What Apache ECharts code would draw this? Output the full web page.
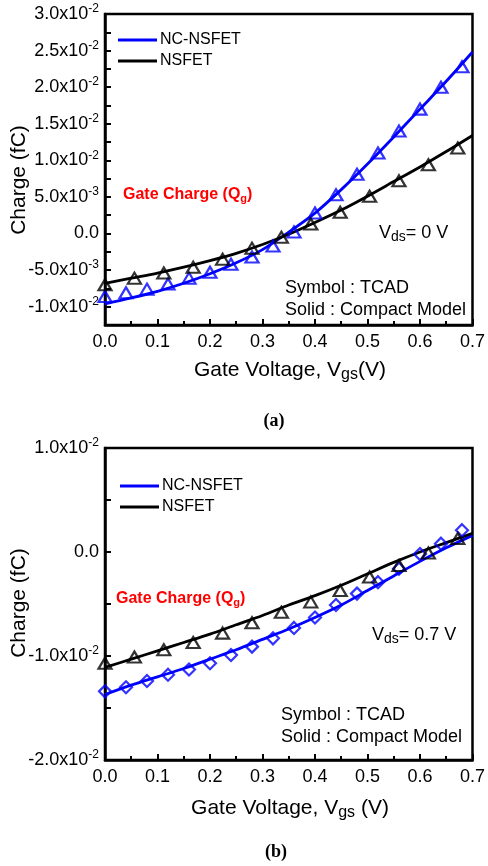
<!DOCTYPE html>
<html><head><meta charset="utf-8">
<script src="https://cdn.jsdelivr.net/npm/echarts@6/dist/echarts.min.js"></script>
<style>html,body{margin:0;padding:0;background:#fff}#c{width:488px;height:866px}</style>
</head><body><div id="c"></div>
<script>
const FONT = '"Liberation Sans", Arial, Helvetica, sans-serif';
const BLUE = '#0000ff';
const BLACK = '#000000';

// ---------- (a) Vds = 0 V ----------
const topVgsLine = [0, 0.05, 0.1, 0.15, 0.2, 0.25, 0.3, 0.35, 0.4, 0.45, 0.5, 0.55, 0.6, 0.65, 0.7];
const topNcLine = [-0.0096, -0.0088, -0.0079, -0.0068, -0.0055, -0.0040, -0.0022, 0.0002, 0.0028, 0.0060, 0.0095, 0.0132, 0.0170, 0.0208, 0.0248];
const topNsLine = [-0.0068, -0.0061, -0.0054, -0.0046, -0.0037, -0.0027, -0.0015, -0.0001, 0.0015, 0.0032, 0.0051, 0.0071, 0.0091, 0.0112, 0.0134];
const topNcTcadVgs = [0, 0.04, 0.08, 0.12, 0.16, 0.2, 0.24, 0.28, 0.32, 0.36, 0.4, 0.44, 0.48, 0.52, 0.56, 0.6, 0.64, 0.68];
const topNcTcad = [-0.0086, -0.0081, -0.0076, -0.0069, -0.0061, -0.0053, -0.0042, -0.0032, -0.0017, 0.0002, 0.0028, 0.0053, 0.0081, 0.0110, 0.0140, 0.0170, 0.0200, 0.0228];
const topNsTcadVgs = [0, 0.056, 0.112, 0.168, 0.224, 0.28, 0.336, 0.392, 0.448, 0.504, 0.56, 0.616, 0.672];
const topNsTcad = [-0.0070, -0.0061, -0.0054, -0.0046, -0.0035, -0.0020, -0.0005, 0.0013, 0.0029, 0.0051, 0.0072, 0.0094, 0.0117];
const topYTickValues = [-0.01, -0.005, 0, 0.005, 0.01, 0.015, 0.02, 0.025, 0.03];
const topYTickMant = ['-1.0x10', '-5.0x10', '0.0', '5.0x10', '1.0x10', '1.5x10', '2.0x10', '2.5x10', '3.0x10'];
const topYTickExp = ['-2', '-3', '', '-3', '-2', '-2', '-2', '-2', '-2'];

// ---------- (b) Vds = 0.7 V ----------
const botVgsLine = [0, 0.05, 0.1, 0.15, 0.2, 0.25, 0.3, 0.35, 0.4, 0.45, 0.5, 0.55, 0.6, 0.65, 0.7];
const botNcLine = [-0.0137, -0.0128, -0.0120, -0.0112, -0.0103, -0.0094, -0.0084, -0.0074, -0.0063, -0.0051, -0.0037, -0.0023, -0.0009, 0.0004, 0.0016];
const botNsLine = [-0.0111, -0.0103, -0.0095, -0.0087, -0.0079, -0.0070, -0.0061, -0.0051, -0.0042, -0.0032, -0.0021, -0.0010, 0.0000, 0.0009, 0.0018];
const botNcTcadVgs = [0, 0.04, 0.08, 0.12, 0.16, 0.2, 0.24, 0.28, 0.32, 0.36, 0.4, 0.44, 0.48, 0.52, 0.56, 0.6, 0.64, 0.68];
const botNcTcad = [-0.0134, -0.0130, -0.0124, -0.0118, -0.0113, -0.0107, -0.0099, -0.0091, -0.0083, -0.0073, -0.0063, -0.0051, -0.0040, -0.0029, -0.0016, -0.0002, 0.0008, 0.0021];
const botNsTcadVgs = [0, 0.056, 0.112, 0.168, 0.224, 0.28, 0.336, 0.392, 0.448, 0.504, 0.56, 0.616, 0.672];
const botNsTcad = [-0.0107, -0.0101, -0.0094, -0.0087, -0.0078, -0.0068, -0.0058, -0.0048, -0.0037, -0.0024, -0.0013, -0.0001, 0.0013];
const botYTickValues = [-0.02, -0.01, 0, 0.01];
const botYTickMant = ['-2.0x10', '-1.0x10', '0.0', '1.0x10'];
const botYTickExp = ['-2', '-2', '', '-2'];

const xTickDecimals = 1;

function pairs(xs, ys) { return xs.map((x, i) => [x, ys[i]]); }
function yFormatter(vals, mants, exps) {
  return function (v) {
    for (let i = 0; i < vals.length; i++) {
      if (Math.abs(vals[i] - v) < 1e-9) {
        return exps[i] ? '{m|' + mants[i] + '}{e|' + exps[i] + '}' : '{m|' + mants[i] + '}';
      }
    }
    return '';
  };
}
const yRich = {
  m: { fontSize: 18, fontFamily: FONT, color: BLACK },
  e: { fontSize: 12, fontFamily: FONT, color: BLACK, padding: [0, 0, 10, 0] }
};

function xAxisCfg(gi) {
  return {
    type: 'value', gridIndex: gi, min: 0, max: 0.7, interval: 0.1,
    axisLine: { show: true, onZero: false, lineStyle: { color: BLACK, width: 2.5 } },
    axisTick: { show: true, inside: true, length: 6, lineStyle: { color: BLACK, width: 2 } },
    minorTick: { show: true, splitNumber: 2, length: 4, lineStyle: { color: BLACK, width: 2 } },
    splitLine: { show: false }, minorSplitLine: { show: false },
    axisLabel: { show: true, margin: 8, fontSize: 18, fontFamily: FONT, color: BLACK,
      formatter: v => v.toFixed(xTickDecimals), showMinLabel: true, showMaxLabel: true, hideOverlap: false }
  };
}
function yAxisCfg(gi, min, max, interval, vals, mants, exps) {
  return {
    type: 'value', gridIndex: gi, min: min, max: max, interval: interval,
    axisLine: { show: true, onZero: false, lineStyle: { color: BLACK, width: 2.5 } },
    axisTick: { show: true, inside: true, length: 6, lineStyle: { color: BLACK, width: 2 } },
    splitLine: { show: false },
    axisLabel: { show: true, margin: 6, fontSize: 18, fontFamily: FONT, color: BLACK,
      formatter: yFormatter(vals, mants, exps), rich: yRich, showMinLabel: true, showMaxLabel: true, hideOverlap: false }
  };
}

function lineSeries(name, gi, xs, ys, color) {
  return { name: name, type: 'line', xAxisIndex: gi, yAxisIndex: gi, data: pairs(xs, ys),
    smooth: 0.3, showSymbol: false, symbol: 'none', z: 2,
    lineStyle: { color: color, width: 2.8 }, itemStyle: { color: color } };
}
function scatterSeries(name, gi, xs, ys, color, symbol, size) {
  return { name: name, type: 'scatter', xAxisIndex: gi, yAxisIndex: gi, data: pairs(xs, ys),
    symbol: symbol, symbolSize: size, z: 3,
    itemStyle: { color: 'rgba(255,255,255,0)', borderColor: color, borderWidth: 2.2 } };
}

const legendBase = {
  orient: 'vertical', icon: 'rect', itemWidth: 39, itemHeight: 3, itemGap: 5,
  selectedMode: false, data: ['NC-NSFET', 'NSFET'],
  textStyle: { fontSize: 16, fontFamily: FONT, color: BLACK, padding: [0, 0, 0, -2] }
};

const txtRich = {
  t: { fontSize: 18, fontFamily: FONT, fill: BLACK },
  s: { fontSize: 14, fontFamily: FONT, fill: BLACK, padding: [9, 0, 0, 0] }
};
const ttlRich = {
  t: { fontSize: 21, fontFamily: FONT, fill: BLACK },
  s: { fontSize: 16, fontFamily: FONT, fill: BLACK, padding: [10, 0, 0, 0] }
};
const redRich = {
  t: { fontSize: 16, fontWeight: 'bold', fontFamily: FONT, fill: '#ff0000' },
  s: { fontSize: 11, fontWeight: 'bold', fontFamily: FONT, fill: '#ff0000', padding: [7, 0, 0, 0] }
};
function gText(x, y, text, rich, align, rot) {
  return { type: 'text', x: x, y: y, rotation: rot || 0, z: 10,
    style: { text: text, rich: rich, align: align || 'left', verticalAlign: 'middle' } };
}

const option = {
  animation: false,
  backgroundColor: '#ffffff',
  grid: [
    { left: 105, top: 14, width: 370, height: 311, show: true, borderColor: BLACK, borderWidth: 2.5, backgroundColor: 'transparent' },
    { left: 105, top: 448, width: 370, height: 312, show: true, borderColor: BLACK, borderWidth: 2.5, backgroundColor: 'transparent' }
  ],
  xAxis: [xAxisCfg(0), xAxisCfg(1)],
  yAxis: [
    yAxisCfg(0, -0.0125, 0.03, 0.0025, topYTickValues, topYTickMant, topYTickExp),
    yAxisCfg(1, -0.02, 0.01, 0.005, botYTickValues, botYTickMant, botYTickExp)
  ],
  legend: [
    Object.assign({}, legendBase, { left: 113, top: 27 }),
    Object.assign({}, legendBase, { left: 115, top: 473 })
  ],
  series: [
    lineSeries('NC-NSFET', 0, topVgsLine, topNcLine, BLUE),
    lineSeries('NSFET', 0, topVgsLine, topNsLine, BLACK),
    scatterSeries('NC-NSFET (TCAD)', 0, topNcTcadVgs, topNcTcad, BLUE, 'triangle', [13, 11]),
    scatterSeries('NSFET (TCAD)', 0, topNsTcadVgs, topNsTcad, BLACK, 'triangle', [13, 11]),
    lineSeries('NC-NSFET', 1, botVgsLine, botNcLine, BLUE),
    lineSeries('NSFET', 1, botVgsLine, botNsLine, BLACK),
    scatterSeries('NC-NSFET (TCAD)', 1, botNcTcadVgs, botNcTcad, BLUE, 'diamond', [12, 12]),
    scatterSeries('NSFET (TCAD)', 1, botNsTcadVgs, botNsTcad, BLACK, 'triangle', [13, 11])
  ],
  graphic: [
    gText(19, 180, '{t|Charge (fC)}', ttlRich, 'center', Math.PI / 2),
    gText(290, 370, '{t|Gate Voltage, V}{s|gs}{t|(V)}', ttlRich, 'center'),
    gText(274, 421, '{b|(a)}', { b: { fontSize: 18, fontWeight: 'bold', fontFamily: '"Liberation Serif", "Times New Roman", serif', fill: BLACK } }, 'center'),
    gText(123, 195, '{t|Gate Charge (Q}{s|g}{t|)}', redRich, 'left'),
    gText(379, 233, '{t|V}{s|ds}{t|= 0 V}', txtRich, 'left'),
    gText(285, 288, '{t|Symbol : TCAD}', txtRich, 'left'),
    gText(285, 310, '{t|Solid : Compact Model}', txtRich, 'left'),

    gText(19, 603, '{t|Charge (fC)}', ttlRich, 'center', Math.PI / 2),
    gText(290, 808, '{t|Gate Voltage, V}{s|gs}{t| (V)}', ttlRich, 'center'),
    gText(276, 852, '{b|(b)}', { b: { fontSize: 18, fontWeight: 'bold', fontFamily: '"Liberation Serif", "Times New Roman", serif', fill: BLACK } }, 'center'),
    gText(116, 599, '{t|Gate Charge (Q}{s|g}{t|)}', redRich, 'left'),
    gText(372, 635, '{t|V}{s|ds}{t|= 0.7 V}', txtRich, 'left'),
    gText(281, 715, '{t|Symbol : TCAD}', txtRich, 'left'),
    gText(281, 737, '{t|Solid : Compact Model}', txtRich, 'left')
  ]
};

const chart = echarts.init(document.getElementById('c'), null, { renderer: 'canvas' });
chart.setOption(option);
</script>
</body></html>
